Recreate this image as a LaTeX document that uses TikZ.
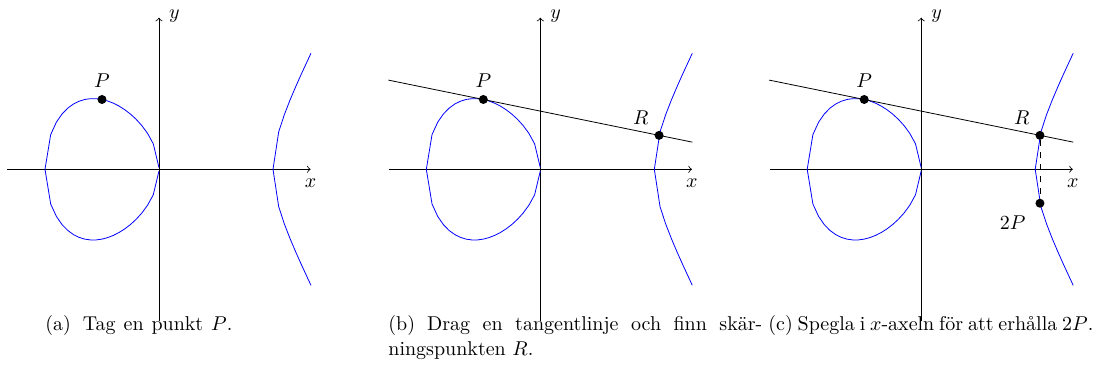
\documentclass[tikz,border=0pt]{standalone}
\usepackage{fontspec}
\begin{document}
\begin{tikzpicture}[x=57pt,y=57pt,
  axis/.style={->},
  curve/.style={blue},
  dot/.style={circle,fill=black,inner sep=0pt,minimum size=4.5pt},
  tangent/.style={black},
  reflect/.style={black,dashed},
  captext/.style={anchor=base west,inner sep=0pt}]
\useasboundingbox (-1.3947,-1.8921) rectangle (8.2719,1.4851);
\foreach \n/\ox in {a/0,b/3.345,c/6.686}{
  \begin{scope}[shift={(\ox,0)}]
    \coordinate (xl-\n) at (-1.33,0);
    \coordinate (xr-\n) at (1.33,0);
    \coordinate (yb-\n) at (0,-1.33);
    \coordinate (yt-\n) at (0,1.33);
    \draw[axis] (xl-\n) -- (xr-\n) node[below,yshift=-1.5pt] (xlab-\n) {$x$};
    \draw[axis] (yb-\n) -- (yt-\n) node[right,xshift=1.5pt,yshift=1pt] (ylab-\n) {$y$};
    \draw[curve] plot[domain=-1:0,samples=21] (\x,{sqrt(abs(\x*\x*\x-\x))});
    \draw[curve] plot[domain=-1:0,samples=21] (\x,{-sqrt(abs(\x*\x*\x-\x))});
    \draw[curve] plot[samples at={1,1.05,...,1.3,1.333}] (\x,{sqrt(abs(\x*\x*\x-\x))});
    \draw[curve] plot[samples at={1,1.05,...,1.3,1.333}] (\x,{-sqrt(abs(\x*\x*\x-\x))});
  \end{scope}
}
% panel (a)
\node[dot,label={above:$P$}] (P-a) at (-0.5,0.6124) {};
% panel (b)
\begin{scope}[shift={(3.345,0)}]
  \coordinate (ls-b) at (-1.333,0.7824);
  \coordinate (le-b) at (1.333,0.2383);
  \draw[tangent] (ls-b) -- (le-b);
  \node[dot,label={above:$P$}] (P-b) at (-0.5,0.6124) {};
  \node[dot,label={above left:$R$}] (R-b) at (1.0417,0.2977) {};
\end{scope}
% panel (c)
\begin{scope}[shift={(6.686,0)}]
  \coordinate (ls-c) at (-1.333,0.7824);
  \coordinate (le-c) at (1.333,0.2383);
  \draw[tangent] (ls-c) -- (le-c);
  \node[dot,label={above:$P$}] (P-c) at (-0.5,0.6124) {};
  \node[dot,label={above left:$R$}] (R-c) at (1.0417,0.2977) {};
  \node[dot,label={[xshift=-2pt,yshift=-1pt]below left:$2P$}] (P2-c) at (1.0417,-0.2977) {};
  \draw[reflect] (R-c) -- (P2-c);
\end{scope}
% captions
\node[captext] (cap-a) at (-1.0,-1.418) {\makebox[93.5pt][s]{(a)\hspace{6pt}Tag en punkt $P$.}};
\node[captext] (cap-b1) at (2.009,-1.418) {\makebox[187pt][s]{(b)\hspace{6pt}Drag en tangentlinje och finn skär-}};
\node[captext] (cap-b2) at (2.009,-1.629) {ningspunkten $R$.};
\node[captext] (cap-c) at (5.342,-1.418) {\makebox[162.5pt][s]{(c) Spegla i $x$-axeln för att erhålla $2P$.}};
\end{tikzpicture}
\end{document}
